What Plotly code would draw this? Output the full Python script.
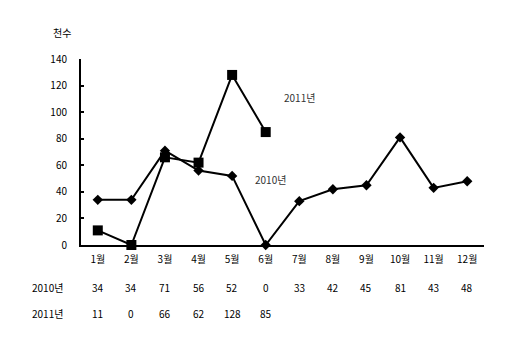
import plotly.graph_objects as go

months = ["1월", "2월", "3월", "4월", "5월", "6월", "7월", "8월", "9월", "10월", "11월", "12월"]
v2010 = [34, 34, 71, 56, 52, 0, 33, 42, 45, 81, 43, 48]
v2011 = [11, 0, 66, 62, 128, 85]
series_names = ["2010년", "2011년"]
yticks = [0, 20, 40, 60, 80, 100, 120, 140]

FONT = "Noto Sans CJK KR, Liberation Sans, sans-serif"

fig = go.Figure()
fig.add_trace(go.Scatter(
    x=months, y=v2010, mode="lines+markers", name=series_names[0],
    line=dict(color="black", width=2),
    marker=dict(symbol="diamond", size=8, color="black"),
    cliponaxis=False,
))
fig.add_trace(go.Scatter(
    x=months[:len(v2011)], y=v2011, mode="lines+markers", name=series_names[1],
    line=dict(color="black", width=2),
    marker=dict(symbol="square", size=10, color="black"),
    cliponaxis=False,
))

annotations = []
annotations.append(dict(x=6.0, y=111, xref="x", yref="y", text=series_names[1], showarrow=False,
                        font=dict(size=10, color="#333", family=FONT)))
annotations.append(dict(x=5.15, y=49, xref="x", yref="y", text=series_names[0], showarrow=False,
                        font=dict(size=10, color="#333", family=FONT)))
annotations.append(dict(x=-0.047, y=1.14, xref="paper", yref="paper", text="천수", showarrow=False,
                        xanchor="center", yanchor="middle",
                        font=dict(size=10, color="black", family=FONT)))
rows = [(series_names[0], v2010, -0.226), (series_names[1], v2011, -0.366)]
for name, vals, yy in rows:
    annotations.append(dict(x=-0.083, y=yy, xref="paper", yref="paper", text=name, showarrow=False,
                            xanchor="center", yanchor="middle",
                            font=dict(size=10, color="black", family=FONT)))
    for m, v in zip(months, vals):
        annotations.append(dict(x=m, y=yy, xref="x", yref="paper", text=str(v), showarrow=False,
                                xanchor="center", yanchor="middle",
                                font=dict(size=10, color="black", family=FONT)))

fig.update_layout(
    width=508, height=342,
    margin=dict(l=81, r=24, t=59, b=97),
    paper_bgcolor="white", plot_bgcolor="white",
    showlegend=False,
    font=dict(family=FONT, size=10, color="black"),
    annotations=annotations,
    xaxis=dict(type="category", categoryorder="array", categoryarray=months,
               range=[-0.5, 11.5], showline=True, linecolor="black", linewidth=2,
               showgrid=False, ticks="", tickfont=dict(size=10, family=FONT),
               ticklabelstandoff=4, fixedrange=True),
    yaxis=dict(range=[0, 140], tickvals=yticks, showline=True, linecolor="black", linewidth=2,
               showgrid=False, zeroline=False, ticks="inside", ticklen=3, tickwidth=2, tickcolor="black",
               tickfont=dict(size=10, family=FONT), ticklabelstandoff=10, fixedrange=True),
)

fig.write_html("out.html")
